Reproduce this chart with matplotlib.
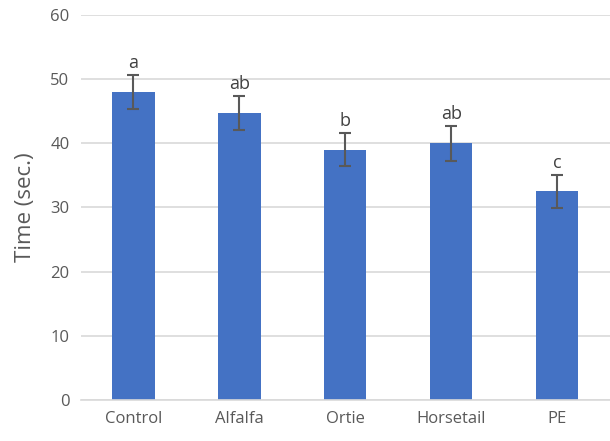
import numpy as np
import matplotlib.pyplot as plt

treatments = ['Control', 'Alfalfa', 'Ortie', 'Horsetail', 'PE']
mean_time = [48.0, 44.7, 39.0, 40.0, 32.5]
sem_time = [2.65, 2.65, 2.6, 2.7, 2.6]
groups = ['a', 'ab', 'b', 'ab', 'c']

plt.rcParams['font.family'] = ['Open Sans', 'DejaVu Sans']

fig = plt.figure(figsize=(6.1, 4.41), dpi=100)
ax = fig.add_axes([0.132, 0.093, 0.868, 0.873])

x = np.arange(len(treatments))
ax.bar(x, mean_time, width=0.4, color='#4472C4', zorder=2)
ax.errorbar(x, mean_time, yerr=sem_time, fmt='none', ecolor='#595959',
            elinewidth=1.5, capsize=4, capthick=1.5, zorder=3)

for xi, m, e, g in zip(x, mean_time, sem_time, groups):
    ax.text(xi, m + e + 0.5, g, ha='center', va='bottom', fontsize=13, color='#404040')

ax.set_xlim(-0.5, len(treatments) - 0.5)
ax.set_ylim(0, 60)
ax.set_yticks(range(0, 61, 10))
ax.yaxis.grid(True, color='#D9D9D9', linewidth=1.2, zorder=0)
ax.set_axisbelow(True)
for s in ['top', 'right', 'left']:
    ax.spines[s].set_visible(False)
ax.spines['bottom'].set_color('#D9D9D9')
ax.spines['bottom'].set_linewidth(1.2)
ax.tick_params(length=0, labelsize=12, labelcolor='#595959', pad=8)
ax.set_xticks(x)
ax.set_xticklabels(treatments)
ax.set_ylabel('Time (sec.)', fontsize=16, color='#595959', labelpad=10)

fig.savefig('out.png', dpi=100)
